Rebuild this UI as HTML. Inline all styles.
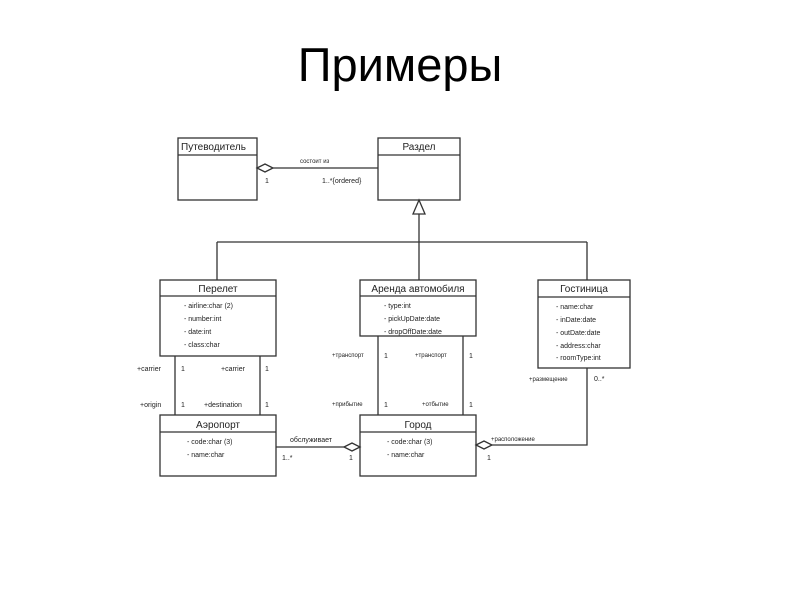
<!DOCTYPE html>
<html><head><meta charset="utf-8"><style>
body{margin:0;background:#fff;width:800px;height:600px;overflow:hidden}
</style></head><body>
<svg width="800" height="600" xmlns="http://www.w3.org/2000/svg" font-family="Liberation Sans, sans-serif">
<text x="400" y="81" font-size="47" text-anchor="middle" fill="#000">Примеры</text>
<g stroke="#333" stroke-width="1.3" fill="none">
<rect x="178" y="138" width="79" height="62"/><line x1="178" y1="155" x2="257" y2="155"/>
<rect x="378" y="138" width="82" height="62"/><line x1="378" y1="155" x2="460" y2="155"/>
<polygon points="257,168 265,164 273,168 265,172" fill="#fff"/>
<line x1="273" y1="168" x2="378" y2="168"/>
<polygon points="419,200 413,214 425,214" fill="#fff"/>
<line x1="419" y1="214" x2="419" y2="242"/>
<line x1="217" y1="242" x2="587" y2="242"/>
<line x1="217" y1="242" x2="217" y2="280"/>
<line x1="419" y1="242" x2="419" y2="280"/>
<line x1="587" y1="242" x2="587" y2="280"/>
<rect x="160" y="280" width="116" height="76"/><line x1="160" y1="296" x2="276" y2="296"/>
<rect x="360" y="280" width="116" height="56"/><line x1="360" y1="296" x2="476" y2="296"/>
<rect x="538" y="280" width="92" height="88"/><line x1="538" y1="297" x2="630" y2="297"/>
<rect x="160" y="415" width="116" height="61"/><line x1="160" y1="432" x2="276" y2="432"/>
<rect x="360" y="415" width="116" height="61"/><line x1="360" y1="432" x2="476" y2="432"/>
<line x1="175" y1="356" x2="175" y2="415"/><line x1="260" y1="356" x2="260" y2="415"/>
<line x1="378" y1="336" x2="378" y2="415"/><line x1="463" y1="336" x2="463" y2="415"/>
<line x1="276" y1="447" x2="344" y2="447"/>
<polygon points="344,447 352,443 360,447 352,451" fill="#fff"/>
<polygon points="476,445 484,441 492,445 484,449" fill="#fff"/>
<polyline points="492,445 587,445 587,368"/>
</g>
<g font-size="8" fill="#222">
<text x="181" y="150" font-size="10">Путеводитель</text>
<text x="419" y="150" font-size="10" text-anchor="middle">Раздел</text>
<text x="300" y="163" font-size="6">состоит  из</text>
<text x="265" y="183" font-size="7">1</text>
<text x="322" y="183" font-size="7">1..*{ordered}</text>
<text x="218" y="292" font-size="10" text-anchor="middle">Перелет</text>
<text x="418" y="292" font-size="10" text-anchor="middle">Аренда автомобиля</text>
<text x="584" y="292" font-size="10" text-anchor="middle">Гостиница</text>
<text x="218" y="428" font-size="10" text-anchor="middle">Аэропорт</text>
<text x="418" y="428" font-size="10" text-anchor="middle">Город</text>
<g font-size="7">
<text x="184" y="308">-  airline:char (2)</text>
<text x="184" y="321">-  number:int</text>
<text x="184" y="334">-  date:int</text>
<text x="184" y="347">-  class:char</text>
<text x="384" y="308">-  type:int</text>
<text x="384" y="321">-  pickUpDate:date</text>
<text x="384" y="334">-  dropOffDate:date</text>
<text x="556" y="309">-  name:char</text>
<text x="556" y="322">-  inDate:date</text>
<text x="556" y="335">-  outDate:date</text>
<text x="556" y="348">-  address:char</text>
<text x="556" y="360">-  roomType:int</text>
<text x="187" y="444">-  code:char (3)</text>
<text x="187" y="457">-  name:char</text>
<text x="387" y="444">-  code:char (3)</text>
<text x="387" y="457">-  name:char</text>
<text x="137" y="371">+carrier</text><text x="181" y="371">1</text>
<text x="221" y="371">+carrier</text><text x="265" y="371">1</text>
<text x="140" y="407">+origin</text><text x="181" y="407">1</text>
<text x="204" y="407">+destination</text><text x="265" y="407">1</text>
<text x="332" y="357" font-size="6">+транспорт</text><text x="384" y="358">1</text>
<text x="415" y="357" font-size="6">+транспорт</text><text x="469" y="358">1</text>
<text x="332" y="406" font-size="6">+прибытие</text><text x="384" y="407">1</text>
<text x="422" y="406" font-size="6">+отбытие</text><text x="469" y="407">1</text>
<text x="290" y="442">обслуживает</text>
<text x="282" y="460">1..*</text>
<text x="349" y="460">1</text>
<text x="491" y="441" font-size="6">+расположение</text>
<text x="487" y="460">1</text>
<text x="529" y="381" font-size="6">+размещение</text>
<text x="594" y="381">0..*</text>
</g>
</g>
</svg>
</body></html>
